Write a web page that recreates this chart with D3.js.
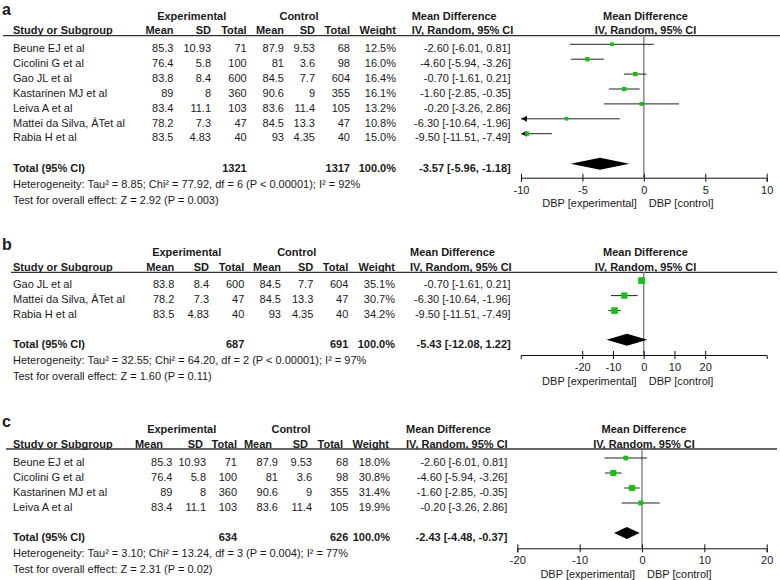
<!DOCTYPE html>
<html><head><meta charset="utf-8">
<script src="https://cdn.jsdelivr.net/npm/d3@7"></script>
<style>body{margin:0;background:#fff}</style>
</head><body>
<svg id="chart" width="780" height="580"></svg>
<script>
// ---------- Panel a data ----------
const studiesA = ["Beune EJ et al","Cicolini G et al","Gao JL et al","Kastarinen MJ et al","Leiva A et al","Mattei da Silva, ÂTet al","Rabia H et al"];
const expMeanA = [85.3, 76.4, 83.8, 89, 83.4, 78.2, 83.5];
const expSDA   = [10.93, 5.8, 8.4, 8, 11.1, 7.3, 4.83];
const expNA    = [71, 100, 600, 360, 103, 47, 40];
const ctlMeanA = [87.9, 81, 84.5, 90.6, 83.6, 84.5, 93];
const ctlSDA   = [9.53, 3.6, 7.7, 9, 11.4, 13.3, 4.35];
const ctlNA    = [68, 98, 604, 355, 105, 47, 40];
const weightA  = [12.5, 16.0, 16.4, 16.1, 13.2, 10.8, 15.0];
const mdA      = [-2.60, -4.60, -0.70, -1.60, -0.20, -6.30, -9.50];
const lowA     = [-6.01, -5.94, -1.61, -2.85, -3.26, -10.64, -11.51];
const highA    = [0.81, -3.26, 0.21, -0.35, 2.86, -1.96, -7.49];
const totalNA  = [1321, 1317];
const pooledA  = [-3.57, -5.96, -1.18];
const hetA  = "Heterogeneity: Tau² = 8.85; Chi² = 77.92, df = 6 (P < 0.00001); I² = 92%";
const testA = "Test for overall effect: Z = 2.92 (P = 0.003)";
const domainA = [-10, 10];
const ticksA  = [-10, -5, 0, 5, 10];

// ---------- Panel b data ----------
const studiesB = ["Gao JL et al","Mattei da Silva, ÂTet al","Rabia H et al"];
const expMeanB = [83.8, 78.2, 83.5];
const expSDB   = [8.4, 7.3, 4.83];
const expNB    = [600, 47, 40];
const ctlMeanB = [84.5, 84.5, 93];
const ctlSDB   = [7.7, 13.3, 4.35];
const ctlNB    = [604, 47, 40];
const weightB  = [35.1, 30.7, 34.2];
const mdB      = [-0.70, -6.30, -9.50];
const lowB     = [-1.61, -10.64, -11.51];
const highB    = [0.21, -1.96, -7.49];
const totalNB  = [687, 691];
const pooledB  = [-5.43, -12.08, 1.22];
const hetB  = "Heterogeneity: Tau² = 32.55; Chi² = 64.20, df = 2 (P < 0.00001); I² = 97%";
const testB = "Test for overall effect: Z = 1.60 (P = 0.11)";
const domainB = [-40, 40];
const ticksB  = [-20, -10, 0, 10, 20];

// ---------- Panel c data ----------
const studiesC = ["Beune EJ et al","Cicolini G et al","Kastarinen MJ et al","Leiva A et al"];
const expMeanC = [85.3, 76.4, 89, 83.4];
const expSDC   = [10.93, 5.8, 8, 11.1];
const expNC    = [71, 100, 360, 103];
const ctlMeanC = [87.9, 81, 90.6, 83.6];
const ctlSDC   = [9.53, 3.6, 9, 11.4];
const ctlNC    = [68, 98, 355, 105];
const weightC  = [18.0, 30.8, 31.4, 19.9];
const mdC      = [-2.60, -4.60, -1.60, -0.20];
const lowC     = [-6.01, -5.94, -2.85, -3.26];
const highC    = [0.81, -3.26, -0.35, 2.86];
const totalNC  = [634, 626];
const pooledC  = [-2.43, -4.48, -0.37];
const hetC  = "Heterogeneity: Tau² = 3.10; Chi² = 13.24, df = 3 (P = 0.004); I² = 77%";
const testC = "Test for overall effect: Z = 2.31 (P = 0.02)";
const domainC = [-20, 20];
const ticksC  = [-20, -10, 0, 10, 20];

const headCols = ["Mean","SD","Total","Mean","SD","Total","Weight"];
const axisLeft = "DBP [experimental]";
const axisRight = "DBP [control]";

// ---------- drawing ----------
const svg = d3.select("#chart");
const FONT = "'Liberation Sans', Arial, Helvetica, sans-serif";
const TXT = "#1a1a1a";
const GREEN = "#14c214";

function fmtMD(m, l, h) { return m.toFixed(2) + " [" + l.toFixed(2) + ", " + h.toFixed(2) + "]"; }

function panel(p, L) {
  const g = svg.append("g");
  const text = (x, y, s, o = {}) => g.append("text")
    .attr("x", x).attr("y", y)
    .attr("text-anchor", o.anchor || "start")
    .attr("font-weight", o.bold ? "bold" : "normal")
    .attr("font-size", o.size || 11)
    .attr("font-family", FONT).attr("fill", TXT).text(s);

  const hb = L.hdr - 1.5;
  text(2, L.lab, p.label, {bold: true, size: 16});
  text(L.expC, L.hdr - 16, "Experimental", {bold: true, anchor: "middle"});
  text(L.ctlC, L.hdr - 16, "Control", {bold: true, anchor: "middle"});
  text(L.mdL, L.hdr - 16, "Mean Difference", {bold: true});
  text(L.fC, L.hdr - 16, "Mean Difference", {bold: true, anchor: "middle"});
  text(13, hb, "Study or Subgroup", {bold: true});
  headCols.forEach((h, i) => text(L.hcols[i], hb, h, {bold: true, anchor: "end"}));
  text(L.mdL, hb, "IV, Random, 95% CI", {bold: true});
  text(L.fC, hb, "IV, Random, 95% CI", {bold: true, anchor: "middle"});
  g.append("line").attr("x1", L.lx0).attr("x2", L.lx1).attr("y1", L.hdr).attr("y2", L.hdr)
    .attr("stroke", "#333").attr("stroke-width", 1.3);

  const rowC = i => L.row0 + i * L.step;
  p.studies.forEach((s, i) => {
    const y = rowC(i) + 4;
    text(13, y, s);
    const vals = [String(p.em[i]), String(p.es[i]), String(p.en[i]), String(p.cm[i]), String(p.cs[i]), String(p.cn[i]), p.w[i].toFixed(1) + "%"];
    vals.forEach((v, j) => text(L.dcols[j], y, v, {anchor: "end"}));
    text(L.mdR, y, fmtMD(p.md[i], p.lo[i], p.hi[i]), {anchor: "end"});
  });
  const ty = L.total + 4;
  text(13, ty, "Total (95% CI)", {bold: true});
  text(L.dcols[2], ty, String(p.tn[0]), {bold: true, anchor: "end"});
  text(L.dcols[5], ty, String(p.tn[1]), {bold: true, anchor: "end"});
  text(L.dcols[6], ty, "100.0%", {bold: true, anchor: "end"});
  text(L.mdR, ty, fmtMD(p.pooled[0], p.pooled[1], p.pooled[2]), {bold: true, anchor: "end"});
  text(13, L.het + 4, p.het);
  text(13, L.test + 4, p.test);

  // forest
  const xs = d3.scaleLinear().domain(p.domain).range(L.xr);
  const [dmin, dmax] = p.domain;
  g.append("line").attr("x1", xs(0)).attr("x2", xs(0)).attr("y1", L.hdr).attr("y2", L.axisY)
    .attr("stroke", "#808080").attr("stroke-width", 1.4);

  p.studies.forEach((s, i) => {
    const y = rowC(i) - 3.7;
    const a = Math.max(p.lo[i], dmin), b = Math.min(p.hi[i], dmax);
    g.append("line").attr("x1", xs(a)).attr("x2", xs(b)).attr("y1", y).attr("y2", y)
      .attr("stroke", "#222").attr("stroke-width", 1);
    if (p.lo[i] < dmin) {
      const x0 = xs(dmin);
      g.append("path").attr("d", `M${x0},${y}L${x0 + 6},${y - 3}L${x0 + 6},${y + 3}Z`).attr("fill", "#111");
    }
    const side = L.k * Math.sqrt(p.w[i]);
    g.append("rect").attr("x", xs(p.md[i]) - side / 2).attr("y", y - side / 2)
      .attr("width", side).attr("height", side).attr("fill", GREEN);
  });

  const dy = L.total - 3.7;
  const [pm, pl, ph] = p.pooled;
  g.append("path")
    .attr("d", `M${xs(pl)},${dy}L${xs(pm)},${dy - 6}L${xs(ph)},${dy}L${xs(pm)},${dy + 6}Z`)
    .attr("fill", "#000");

  const ax = d3.axisBottom(xs).tickValues(p.ticks).tickSizeOuter(0).tickSize(4).tickFormat(d => String(d));
  const ag = g.append("g").attr("transform", `translate(0,${L.axisY})`).call(ax);
  ag.attr("font-family", FONT).attr("font-size", 11);
  ag.select(".domain").attr("stroke", "#111");
  ag.selectAll(".tick line").attr("y1", -4).attr("y2", 4).attr("stroke", "#111");
  ag.selectAll(".tick text").attr("y", 16).attr("dy", null).attr("fill", TXT);
  text(xs(0) - 7, L.axisY + 29.5, axisLeft, {anchor: "end"});
  text(xs(0) + 5, L.axisY + 29.5, axisRight);
}

panel({label: "a", studies: studiesA, em: expMeanA, es: expSDA, en: expNA, cm: ctlMeanA, cs: ctlSDA, cn: ctlNA,
  w: weightA, md: mdA, lo: lowA, hi: highA, tn: totalNA, pooled: pooledA, het: hetA, test: testA, domain: domainA, ticks: ticksA},
  {hdr: 35.7, lab: 14.5, row0: 48, step: 14.9, total: 167.5, het: 184, test: 200, axisY: 177.7, xr: [521, 766.7],
   expC: 191.7, ctlC: 299, mdL: 411.7, mdR: 510.7, fC: 645.5, lx0: 3, lx1: 780, k: 1.08,
   hcols: [173.5, 211, 246.7, 284, 315, 350, 396], dcols: [173.5, 211, 246.7, 284, 315, 350, 396]});

panel({label: "b", studies: studiesB, em: expMeanB, es: expSDB, en: expNB, cm: ctlMeanB, cs: ctlSDB, cn: ctlNB,
  w: weightB, md: mdB, lo: lowB, hi: highB, tn: totalNB, pooled: pooledB, het: hetB, test: testB, domain: domainB, ticks: ticksB},
  {hdr: 272.3, lab: 249.5, row0: 284.3, step: 15, total: 343.5, het: 360, test: 375.5, axisY: 355, xr: [520.7, 766.7],
   expC: 186.7, ctlC: 296.7, mdL: 410, mdR: 510.7, fC: 645.5, lx0: 11, lx1: 777, k: 1.13,
   hcols: [174.3, 209, 244.3, 281, 313.3, 348.3, 395], dcols: [174.3, 209, 244.3, 281, 313.3, 348.3, 395]});

panel({label: "c", studies: studiesC, em: expMeanC, es: expSDC, en: expNC, cm: ctlMeanC, cs: ctlSDC, cn: ctlNC,
  w: weightC, md: mdC, lo: lowC, hi: highC, tn: totalNC, pooled: pooledC, het: hetC, test: testC, domain: domainC, ticks: ticksC},
  {hdr: 449, lab: 427, row0: 461.7, step: 15, total: 536.7, het: 553.3, test: 569.3, axisY: 548.3, xr: [517.3, 766.7],
   expC: 181.7, ctlC: 291, mdL: 406, mdR: 507.3, fC: 644, lx0: 6, lx1: 777, k: 1.1,
   hcols: [163, 203, 237, 272, 308, 343, 389], dcols: [172.5, 206, 237, 278, 312, 348.3, 390]});
</script>
</body></html>
